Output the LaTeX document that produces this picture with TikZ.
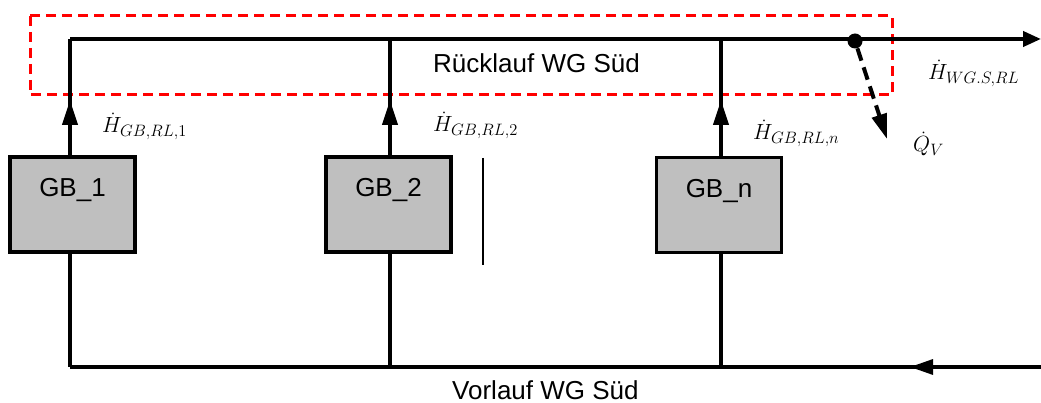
\RequirePackage{fix-cm}
\documentclass[tikz,border=0pt]{standalone}
\usepackage{fontspec}
\setmainfont{Liberation Sans}
\usetikzlibrary{arrows.meta}
\DeclareMathSizes{22}{22}{16.5}{12}

\tikzset{
    gbbox/.style={draw=black, line width=3.5pt, fill=black!25, minimum width=125pt,
        inner sep=0pt, text height=40pt, text depth=55pt, font=\fontsize{26}{30}\selectfont},
    pipe/.style={line width=4pt},
    thinpipe/.style={line width=3.2pt},
    flow/.style={-{Triangle[length=25pt, width=15pt]}},
    mlabel/.style={anchor=base west, inner sep=0pt, font=\fontsize{22}{26}\selectfont},
    tlabel/.style={anchor=base west, inner sep=0pt, font=\fontsize{26}{30}\selectfont}
}

\begin{document}
\begin{tikzpicture}[x=1pt, y=-1pt]
    \useasboundingbox (0,0) rectangle (1041,403);

    % Bilanzgrenze
    \draw[red, line width=3pt, dash pattern=on 10pt off 6pt] (30,16) rectangle (892,95);

    % Kessel
    \node[gbbox] (gb1) at (72.5,204.5) {GB\_1};
    \node[gbbox] (gb2) at (388.5,204.5) {GB\_2};
    \node[gbbox] (gbn) at (719,205) {GB\_n};

    \coordinate (rl1) at (70,39);
    \coordinate (rl2) at (390,39);
    \coordinate (rln) at (721,39);
    \coordinate (rlend) at (1041,39);
    \coordinate (vl1) at (70,367);
    \coordinate (vl2) at (390,367);
    \coordinate (vln) at (721,367);
    \coordinate (vlend) at (1041,367);
    \coordinate (vlarr) at (910,367);

    % Rücklauf
    \draw[pipe, -{Triangle[length=18pt, width=15pt]}] (rl1) -- (rlend);
    \draw[pipe] (rl1 |- gb1.north) -- (rl1);
    \draw[pipe] (rl2 |- gb2.north) -- (rl2);
    \draw[pipe] (rln |- gbn.north) -- (rln);
    \draw[pipe, flow] (rl1 |- gb1.north) -- (70,100);
    \draw[pipe, flow] (rl2 |- gb2.north) -- (390,100);
    \draw[pipe, flow] (rln |- gbn.north) -- (721,100);

    % Vorlauf
    \draw[thinpipe] (vl1) -- (vlend);
    \draw[thinpipe, -{Triangle[length=23pt, width=15pt]}] (vlend) -- (vlarr);
    \draw[thinpipe] (vl1 |- gb1.south) -- (vl1);
    \draw[thinpipe] (vl2 |- gb2.south) -- (vl2);
    \draw[thinpipe] (vln |- gbn.south) -- (vln);

    \coordinate (sep1) at (483,158);
    \coordinate (sep2) at (483,265);
    \draw[line width=1.8pt] (sep1) -- (sep2);

    % Verluste
    \node[circle, fill=black, inner sep=0pt, minimum size=15pt] (dot) at (855,41) {};
    \coordinate (qv) at (887,139);
    \draw[pipe, dash pattern=on 13pt off 7pt, flow] (dot) -- (qv);

    \node[mlabel] (lh1) at (102,133) {$\dot H_{GB,RL,1}$};
    \node[mlabel] (lh2) at (433,132) {$\dot H_{GB,RL,2}$};
    \node[mlabel] (lhn) at (753,140) {$\dot H_{GB,RL,n}$};
    \node[mlabel] (lhws) at (928,80) {$\dot H_{WG.S,RL}$};
    \node[mlabel] (lqv) at (913,152) {$\dot Q_{V}$};

    \node[tlabel] (lrl) at (433,73) {Rücklauf WG Süd};
    \node[tlabel] (lvl) at (452,399) {Vorlauf WG Süd};
\end{tikzpicture}
\end{document}
